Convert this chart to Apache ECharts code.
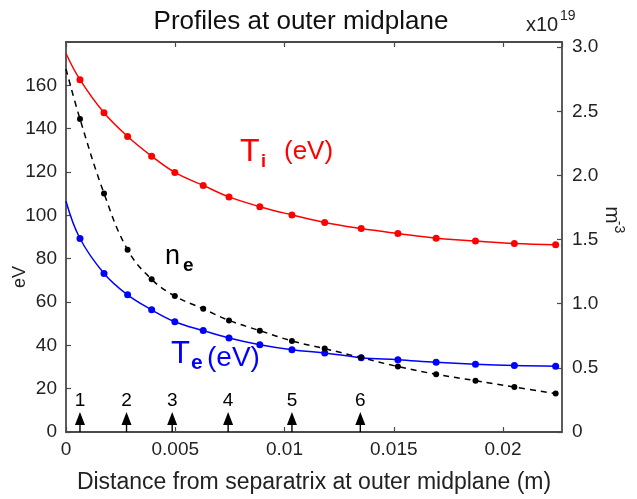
<!DOCTYPE html>
<html>
<head>
<meta charset="utf-8">
<script src="https://cdn.jsdelivr.net/npm/echarts@6/dist/echarts.min.js"></script>
<style>
html, body { margin: 0; padding: 0; background: #fff; }
#main { width: 637px; height: 499px; }
</style>
</head>
<body>
<div id="main"></div>
<script>
// distance from separatrix (m); first entry is the start of the curves at x = 0
var distance = [0, 0.00064, 0.00174, 0.00282, 0.00392, 0.00498, 0.00628, 0.00746, 0.00887,
    0.01034, 0.01184, 0.01351, 0.01519, 0.01694, 0.01874, 0.02052, 0.02241];
var ionTemp = [174.7, 162.6, 147.3, 136.4, 127.3, 119.8, 113.8, 108.5, 104.0,
    100.2, 96.7, 93.9, 91.6, 89.4, 88.1, 87.0, 86.4];
var elecTemp = [106.5, 89.3, 73.2, 63.3, 56.4, 50.9, 46.8, 43.4, 40.3,
    38.0, 36.5, 34.3, 33.4, 32.2, 31.3, 30.7, 30.4];
// density in units of 1e19 m^-3
var elecDens = [2.83, 2.44, 1.86, 1.42, 1.19, 1.06, 0.96, 0.87, 0.79,
    0.71, 0.65, 0.58, 0.51, 0.45, 0.40, 0.35, 0.30];
// probe positions marked by arrows
var arrowX = [0.00064, 0.00277, 0.00486, 0.00742, 0.01034, 0.01347];
var arrowLabels = ['1', '2', '3', '4', '5', '6'];

var xTicks = { min: 0, max: 0.0227, interval: 0.005 };
var leftTicks = { min: 0, max: 180, interval: 20 };
var rightTicks = { min: 0, max: 3.04, interval: 0.5 };

var FONT = '"Liberation Sans", Arial, sans-serif';
var axisColor = '#4a4a4a';

function pairs(ys) {
    return distance.map(function (x, i) {
        var item = { value: [x, ys[i]] };
        if (i === 0) item.symbol = 'none';
        return item;
    });
}

function txt(x, y, text, size, color, opts) {
    opts = opts || {};
    return {
        type: 'text', x: x, y: y, rotation: opts.rotation || 0, z: 10,
        style: {
            text: text, fill: color, fontSize: size, fontFamily: FONT,
            fontWeight: opts.bold ? 'bold' : 'normal',
            textAlign: opts.align || 'left', textVerticalAlign: 'middle'
        }
    };
}

var myChart = echarts.init(document.getElementById('main'));

var tickStyle = { inside: true, length: 5, lineStyle: { color: axisColor, width: 1.2 } };
var lineStyleAxis = { show: true, onZero: false, lineStyle: { color: axisColor, width: 1.8 } };
var labelStyle = { fontSize: 19, color: '#222', fontFamily: FONT };

var option = {
    animation: false,
    backgroundColor: '#fff',
    grid: { left: 66, right: 75, top: 42, bottom: 66 },
    xAxis: [{
        type: 'value', position: 'bottom',
        min: xTicks.min, max: xTicks.max, interval: xTicks.interval,
        axisLine: lineStyleAxis, axisTick: tickStyle, splitLine: { show: false },
        axisLabel: Object.assign({ margin: 8, showMaxLabel: false }, labelStyle),
        name: 'Distance from separatrix at outer midplane (m)',
        nameLocation: 'middle', nameGap: 39,
        nameTextStyle: { fontSize: 23, color: '#222', fontFamily: FONT }
    }, {
        type: 'value', position: 'top',
        min: xTicks.min, max: xTicks.max, interval: xTicks.interval,
        axisLine: lineStyleAxis, axisTick: tickStyle, splitLine: { show: false },
        axisLabel: { show: false }
    }],
    yAxis: [{
        type: 'value', position: 'left',
        min: leftTicks.min, max: leftTicks.max, interval: leftTicks.interval,
        axisLine: lineStyleAxis, axisTick: tickStyle, splitLine: { show: false },
        axisLabel: Object.assign({ margin: 9, showMaxLabel: false }, labelStyle)
    }, {
        type: 'value', position: 'right',
        min: rightTicks.min, max: rightTicks.max, interval: rightTicks.interval,
        axisLine: lineStyleAxis, axisTick: tickStyle, splitLine: { show: false },
        axisLabel: Object.assign({
            margin: 10, showMaxLabel: false,
            formatter: function (v) { return v === 0 ? '0' : v.toFixed(1); }
        }, labelStyle)
    }],
    series: [{
        name: 'Ti', type: 'line', data: pairs(ionTemp), smooth: 0.4,
        symbol: 'circle', symbolSize: 7,
        itemStyle: { color: '#ff0000' }, lineStyle: { color: '#ff0000', width: 1.5 }
    }, {
        name: 'Te', type: 'line', data: pairs(elecTemp), smooth: 0.4,
        symbol: 'circle', symbolSize: 7,
        itemStyle: { color: '#0000ff' }, lineStyle: { color: '#0000ff', width: 1.5 }
    }, {
        name: 'ne', type: 'line', yAxisIndex: 1, data: pairs(elecDens), smooth: 0.4,
        symbol: 'circle', symbolSize: 6,
        itemStyle: { color: '#000' }, lineStyle: { color: '#000', width: 1.5, type: [6, 5] }
    }, {
        name: 'probes', type: 'scatter', clip: false,
        data: arrowX.map(function (x) { return [x, 0]; }),
        symbol: 'path://M5,0L10,13L5.7,13L5.7,20L4.3,20L4.3,13L0,13Z',
        symbolSize: [10, 20], symbolOffset: [0, -10],
        itemStyle: { color: '#000', opacity: 1 },
        label: {
            show: true, position: 'top', distance: 2,
            fontSize: 19, color: '#000', fontFamily: FONT,
            formatter: function (p) { return arrowLabels[p.dataIndex]; }
        }
    }],
    graphic: [
        txt(301, 22, 'Profiles at outer midplane', 26, '#111', { align: 'center' }),
        txt(526, 25, 'x10', 20, '#222'),
        txt(560, 16, '19', 14, '#222'),
        txt(20, 277, 'eV', 18, '#222', { align: 'center', rotation: Math.PI / 2 }),
        txt(612, 215, 'm', 21, '#222', { align: 'center', rotation: -Math.PI / 2 }),
        txt(619, 227, '-3', 14, '#222', { align: 'center', rotation: -Math.PI / 2 }),
        // Ti label
        txt(240, 152, 'T', 32, '#ff0000'),
        txt(261, 162, 'i', 18, '#ff0000', { bold: true }),
        txt(284, 152, '(eV)', 26, '#ff0000'),
        // ne label
        txt(165, 257, 'n', 27, '#000'),
        txt(183, 266, 'e', 19, '#000', { bold: true }),
        // Te label
        txt(171, 354, 'T', 31, '#0000ff'),
        txt(191, 363, 'e', 21, '#0000ff', { bold: true }),
        txt(207, 358, '(eV)', 28, '#0000ff')
    ]
};

myChart.setOption(option);
</script>
</body>
</html>
